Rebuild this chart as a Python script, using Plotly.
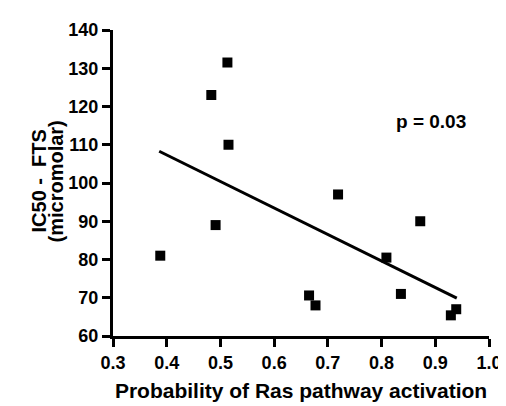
import plotly.graph_objects as go

prob = [0.388, 0.491, 0.483, 0.513, 0.515, 0.719, 0.872, 0.809, 0.836, 0.665, 0.677, 0.939, 0.929]
ic50 = [81, 89, 123, 131.5, 110, 97, 90, 80.5, 71, 70.6, 68, 67, 65.4]

fit_x = [0.386, 0.940]
fit_y = [108.3, 69.9]

x_ticks = [0.3, 0.4, 0.5, 0.6, 0.7, 0.8, 0.9, 1.0]
x_tick_labels = ["0.3", "0.4", "0.5", "0.6", "0.7", "0.8", "0.9", "1.0"]
y_ticks = [60, 70, 80, 90, 100, 110, 120, 130, 140]
y_title_lines = ["IC50 -&nbsp; FTS", "(micromolar)"]

font_family = "Liberation Sans, Arial, sans-serif"

fig = go.Figure()
fig.add_trace(go.Scatter(x=fit_x, y=fit_y, mode="lines",
                         line=dict(color="black", width=3), showlegend=False))
fig.add_trace(go.Scatter(x=prob, y=ic50, mode="markers",
                         marker=dict(symbol="square", size=10, color="black"),
                         showlegend=False))

fig.add_annotation(x=0.892, y=116, text="<b>p = 0.03</b>", showarrow=False,
                   font=dict(family=font_family, size=19, color="black"))

for i, line in enumerate(y_title_lines):
    fig.add_annotation(xref="paper", yref="paper", x=0, y=0.505, xanchor="center",
                       yanchor="middle", xshift=-74 + 17 * i, textangle=-90,
                       text="<b>" + line + "</b>", showarrow=False,
                       font=dict(family=font_family, size=20, color="black"))

axis_common = dict(showline=True, linewidth=3, linecolor="black", ticks="outside",
                   ticklen=8, tickwidth=3, tickcolor="black", showgrid=False,
                   zeroline=False, mirror=False,
                   tickfont=dict(family=font_family, size=18, color="black", weight="bold"))

fig.update_xaxes(range=[0.3, 1.0], tickvals=x_ticks, ticktext=x_tick_labels,
                 title=dict(text="<b>Probability of Ras pathway activation</b>",
                            font=dict(family=font_family, size=21, color="black"),
                            standoff=12),
                 **axis_common)
fig.update_yaxes(range=[60, 140], tickvals=y_ticks, **axis_common)

fig.update_layout(width=506, height=406, plot_bgcolor="white", paper_bgcolor="white",
                  margin=dict(l=105, r=16, t=21, b=78))

fig.write_html("out.html")
